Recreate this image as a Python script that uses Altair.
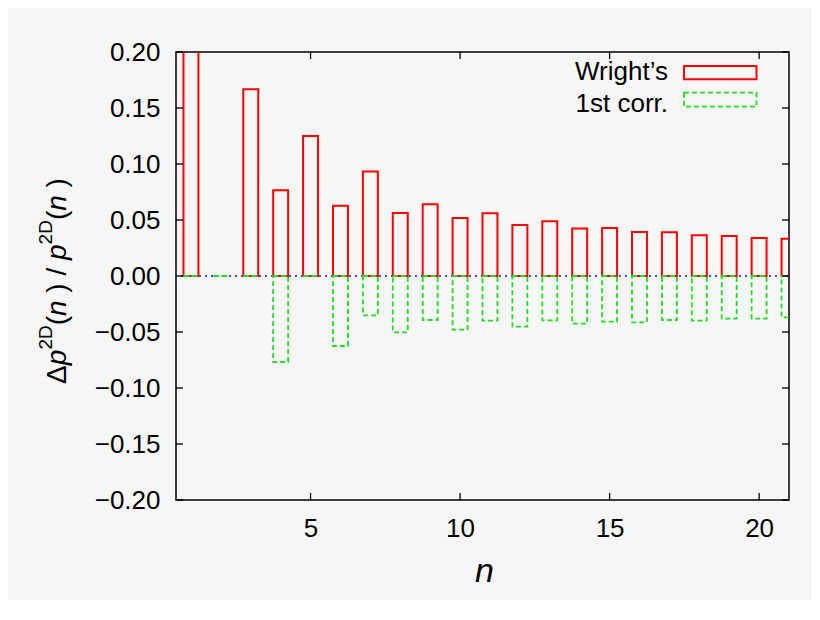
import altair as alt
import pandas as pd

# ---- data ----
n_values = list(range(1, 22))
wright = [0.25, None, 0.1667, 0.0765, 0.125, 0.0628, 0.0932, 0.0562, 0.064, 0.0518,
          0.056, 0.0455, 0.0488, 0.0423, 0.0429, 0.0393, 0.039, 0.0363, 0.0357, 0.0339, 0.0333]
first_corr = [0.0, 0.0, 0.0, -0.0768, 0.0, -0.0625, -0.0351, -0.0503, -0.0393, -0.0479,
              -0.0399, -0.0452, -0.0396, -0.0426, -0.0408, -0.0414, -0.0393, -0.0399, -0.0381, -0.0381, -0.0369]
x_ticks = [5, 10, 15, 20]
y_ticks = [-0.2, -0.15, -0.1, -0.05, 0.0, 0.05, 0.1, 0.15, 0.2]
legend_labels = ["Wright’s", "1st corr."]
# y-axis title pieces: (text, italic, superscript, trailing space)
title_pieces = [("Δ", False, False, False), ("p", True, False, False), ("2D", False, True, False),
                ("(", False, False, False), ("n", True, False, True), (")", False, False, True),
                ("/", False, False, True), ("p", True, False, False), ("2D", False, True, False),
                ("(", False, False, False), ("n", True, False, True), (")", False, False, False)]

W, H = 613, 448
FONT = "Liberation Sans"
RED = "#ff0000"
GREEN = "#22dd22"
BLUE = "#4a4ae0"
BG = "#f6f6f6"
TL = 7  # inward tick length (px)
LABEL_SIZE = 26

df = pd.DataFrame({"n": n_values, "wright": wright, "corr": first_corr})

xscale = alt.Scale(domain=[0.5, 21], nice=False, zero=False)
yscale = alt.Scale(domain=[-0.2, 0.2], nice=False, zero=False)

xaxis = alt.Axis(values=x_ticks, tickSize=0, domain=False, grid=False, labelFont=FONT,
                 labelFontSize=LABEL_SIZE, labelColor="black", labelBaseline="alphabetic",
                 labelPadding=36, title="n", titleFont=FONT, titleFontSize=34,
                 titleFontStyle="italic", titleFontWeight="normal", titleColor="black",
                 titleBaseline="alphabetic", titleY=81, titleX=308)
yaxis = alt.Axis(values=y_ticks, tickSize=0, domain=False, grid=False, labelFont=FONT,
                 labelFontSize=LABEL_SIZE, labelColor="black", labelPadding=16,
                 labelExpr="replace(format(datum.value, '.2f'), '-', '−')", title=None)

base = alt.Chart(df).transform_calculate(x0="datum.n - 0.25", x1="datum.n + 0.25", zero="0")

zero_line = alt.Chart(df).mark_rule(color=BLUE, strokeDash=[2, 4], strokeWidth=1.5).encode(
    y=alt.datum(0, scale=yscale)
)

red_bars = base.transform_filter("isValid(datum.wright)").mark_rect(
    filled=False, stroke=RED, strokeWidth=2, clip=True
).encode(
    x=alt.X("x0:Q", scale=xscale, axis=xaxis),
    x2="x1:Q",
    y=alt.Y("wright:Q", scale=yscale, axis=yaxis),
    y2="zero:Q",
)

green_bars = base.mark_rect(
    filled=False, stroke=GREEN, strokeWidth=1.8, strokeDash=[5, 3], clip=True
).encode(
    x=alt.X("x0:Q", scale=xscale),
    x2="x1:Q",
    y=alt.Y("corr:Q", scale=yscale),
    y2="zero:Q",
)

xt = pd.DataFrame({"t": x_ticks})
yt = pd.DataFrame({"t": y_ticks})
tick_style = dict(color="black", strokeWidth=1.3)
ticks_bottom = alt.Chart(xt).mark_rule(**tick_style).encode(
    x=alt.X("t:Q", scale=xscale), y=alt.value(H - TL), y2=alt.value(H))
ticks_top = alt.Chart(xt).mark_rule(**tick_style).encode(
    x=alt.X("t:Q", scale=xscale), y=alt.value(0), y2=alt.value(TL))
ticks_left = alt.Chart(yt).mark_rule(**tick_style).encode(
    y=alt.Y("t:Q", scale=yscale), x=alt.value(0), x2=alt.value(TL))
ticks_right = alt.Chart(yt).mark_rule(**tick_style).encode(
    y=alt.Y("t:Q", scale=yscale), x=alt.value(W - TL), x2=alt.value(W))

leg1 = pd.DataFrame({"label": [legend_labels[0]]})
leg2 = pd.DataFrame({"label": [legend_labels[1]]})
leg_text1 = alt.Chart(leg1).mark_text(align="right", baseline="alphabetic", font=FONT,
                                      fontSize=LABEL_SIZE, color="black").encode(
    x=alt.value(492), y=alt.value(28), text="label:N")
leg_text2 = alt.Chart(leg2).mark_text(align="right", baseline="alphabetic", font=FONT,
                                      fontSize=LABEL_SIZE, color="black").encode(
    x=alt.value(492), y=alt.value(59.5), text="label:N")
leg_box1 = alt.Chart(leg1).mark_rect(filled=False, stroke=RED, strokeWidth=2).encode(
    x=alt.value(508), x2=alt.value(580.5), y=alt.value(14), y2=alt.value(27.3))
leg_box2 = alt.Chart(leg2).mark_rect(filled=False, stroke=GREEN, strokeWidth=1.8,
                                     strokeDash=[5, 3]).encode(
    x=alt.value(508), x2=alt.value(580.5), y=alt.value(40.7), y2=alt.value(54.7))

# ---- rotated y-axis title built from styled pieces ----
EM = {"Δ": 0.668, "p": 0.556, "2": 0.556, "D": 0.722, "(": 0.333, ")": 0.333,
      "n": 0.556, "/": 0.278, " ": 0.278}
MAIN, SUP = 28, 19
BASE_X, SUP_X = -110, -124
CENTER_Y = 229


def piece_width(text, size):
    return sum(EM[c] for c in text) * size


total = 0.0
for txt, it, sup, sp in title_pieces:
    total += piece_width(txt, SUP if sup else MAIN) + (EM[" "] * MAIN if sp else 0)

title_layers = []
pos = CENTER_Y + total / 2
one = pd.DataFrame({"k": [0]})
for txt, it, sup, sp in title_pieces:
    size = SUP if sup else MAIN
    title_layers.append(
        alt.Chart(one).mark_text(
            text=txt, angle=270, align="left", baseline="alphabetic", font=FONT,
            fontSize=size, fontStyle="italic" if it else "normal", color="black"
        ).encode(x=alt.value(SUP_X if sup else BASE_X), y=alt.value(pos))
    )
    pos -= piece_width(txt, size) + (EM[" "] * MAIN if sp else 0)

chart = alt.layer(
    zero_line, red_bars, green_bars,
    ticks_bottom, ticks_top, ticks_left, ticks_right,
    leg_text1, leg_text2, leg_box1, leg_box2, *title_layers,
).properties(
    width=W, height=H,
    autosize=alt.AutoSizeParams(type="none"),
    padding={"left": 168, "top": 44, "right": 23, "bottom": 100},
    background=BG,
).configure_view(
    fill=BG, stroke="black", strokeWidth=1.5
)

chart.save("out.html", embed_options={"renderer": "svg", "actions": False})
